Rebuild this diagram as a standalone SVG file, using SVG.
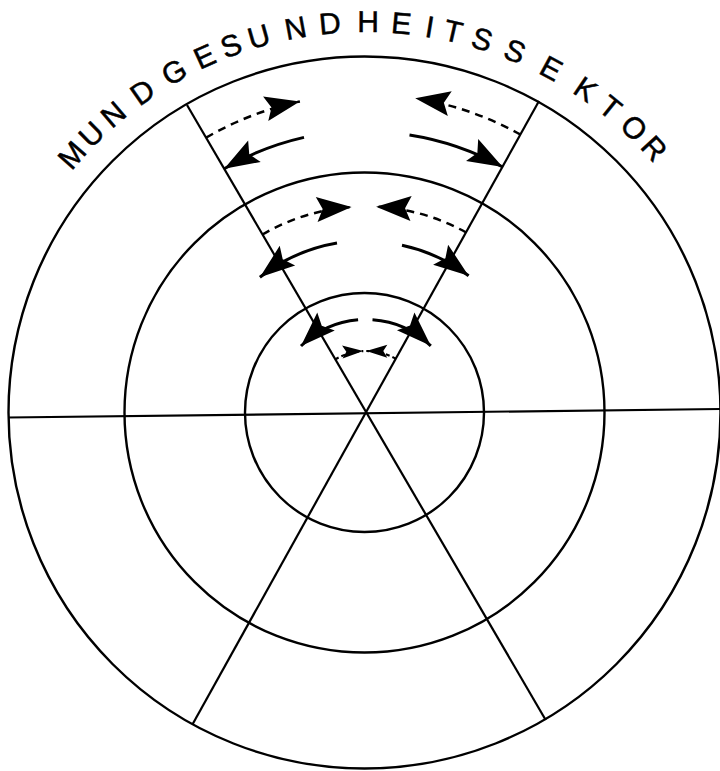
<svg xmlns="http://www.w3.org/2000/svg" width="720" height="771" viewBox="0 0 720 771">
<style>
.ring{fill:none;stroke:#000;stroke-width:2.4}
.spoke{stroke:#000;stroke-width:2.2;fill:none}
.sol{fill:none;stroke:#000;stroke-width:3}
.dsh{fill:none;stroke:#000;stroke-width:2.5;stroke-dasharray:8 6}
.dshs{fill:none;stroke:#000;stroke-width:2.2;stroke-dasharray:4 3}
.lt{font-family:"Liberation Sans",Arial,sans-serif;font-size:30px;fill:#000;stroke:#000;stroke-width:0.5;text-anchor:middle}
</style>
<defs>
<marker id="big" viewBox="-37 -14 38 28" refX="0" refY="0" markerWidth="38" markerHeight="28" markerUnits="userSpaceOnUse" orient="auto">
<path d="M0,0 L-35,-12.5 L-29,0 L-35,12.5 Z" fill="#000"/>
</marker>
<marker id="small" viewBox="-23 -8 24 16" refX="0" refY="0" markerWidth="24" markerHeight="16" markerUnits="userSpaceOnUse" orient="auto">
<path d="M0,0 L-21,-6.5 L-17,0 L-21,6.5 Z" fill="#000"/>
</marker>
</defs>
<rect width="720" height="771" fill="#fff"/>
<g id="rings">
<circle id="outer" class="ring" cx="364.5" cy="412.5" r="356"/>
<circle id="middle" class="ring" cx="364.5" cy="412.5" r="240"/>
<circle id="inner" class="ring" cx="364.5" cy="412.5" r="119.5"/>
</g>
<g id="spokes">
<line class="spoke" x1="8" y1="417.5" x2="720" y2="409"/>
<line class="spoke" x1="187" y1="105" x2="545.7" y2="720"/>
<line class="spoke" x1="539" y1="101" x2="192.7" y2="724"/>
</g>
<g id="connectors">
<path class="dsh" d="M206.05,137.65 A318,318 0 0 1 299.9,101.5" marker-end="url(#big)"/>
<path class="sol" d="M304,137.4 A282,282 0 0 0 224.2,168.8" marker-end="url(#big)"/>
<path class="dsh" d="M520.6,134.6 A318,318 0 0 0 415.2,98.3" marker-end="url(#big)"/>
<path class="sol" d="M409.5,134.9 A281,281 0 0 1 502.7,167.0" marker-end="url(#big)"/>
<path class="dsh" d="M262.4,234.5 A206,206 0 0 1 351.6,207.0" marker-end="url(#big)"/>
<path class="sol" d="M337.0,243.0 A172,172 0 0 0 259.9,277.2" marker-end="url(#big)"/>
<path class="dsh" d="M466.2,232.5 A206,206 0 0 0 376.1,206.7" marker-end="url(#big)"/>
<path class="sol" d="M402.0,245.3 A171,171 0 0 1 468.6,275.7" marker-end="url(#big)"/>
<path class="sol" d="M358.1,319.8 A93,93 0 0 0 301.0,346.0" marker-end="url(#big)"/>
<path class="sol" d="M372.5,319.7 A93,93 0 0 1 430.8,345.8" marker-end="url(#big)"/>
<path class="dshs" d="M335.1,359.3 A61.5,61.5 0 0 1 363.3,351.1" marker-end="url(#small)"/>
<path class="dshs" d="M395.9,358.8 A61.5,61.5 0 0 0 366.3,351.0" marker-end="url(#small)"/>
</g>
<g id="label">
<text class="lt" x="366" y="32" transform="rotate(-48.8 366 412.5)">M</text>
<text class="lt" x="366" y="32" transform="rotate(-44.6 366 412.5)">U</text>
<text class="lt" x="366" y="32" transform="rotate(-40.3 366 412.5)">N</text>
<text class="lt" x="366" y="32" transform="rotate(-34.9 366 412.5)">D</text>
<text class="lt" x="366" y="32" transform="rotate(-29.4 366 412.5)">G</text>
<text class="lt" x="366" y="32" transform="rotate(-24.4 366 412.5)">E</text>
<text class="lt" x="366" y="32" transform="rotate(-20.2 366 412.5)">S</text>
<text class="lt" x="366" y="32" transform="rotate(-15.9 366 412.5)">U</text>
<text class="lt" x="366" y="32" transform="rotate(-10.4 366 412.5)">N</text>
<text class="lt" x="366" y="32" transform="rotate(-5.3 366 412.5)">D</text>
<text class="lt" x="366" y="32" transform="rotate(0.3 366 412.5)">H</text>
<text class="lt" x="366" y="32" transform="rotate(5.2 366 412.5)">E</text>
<text class="lt" x="366" y="32" transform="rotate(9.4 366 412.5)">I</text>
<text class="lt" x="366" y="32" transform="rotate(12.9 366 412.5)">T</text>
<text class="lt" x="366" y="32" transform="rotate(17.3 366 412.5)">S</text>
<text class="lt" x="366" y="32" transform="rotate(22.4 366 412.5)">S</text>
<text class="lt" x="366" y="32" transform="rotate(28.3 366 412.5)">E</text>
<text class="lt" x="366" y="32" transform="rotate(34.2 366 412.5)">K</text>
<text class="lt" x="366" y="32" transform="rotate(38.7 366 412.5)">T</text>
<text class="lt" x="366" y="32" transform="rotate(43.3 366 412.5)">O</text>
<text class="lt" x="366" y="32" transform="rotate(47.5 366 412.5)">R</text>
</g>
</svg>
